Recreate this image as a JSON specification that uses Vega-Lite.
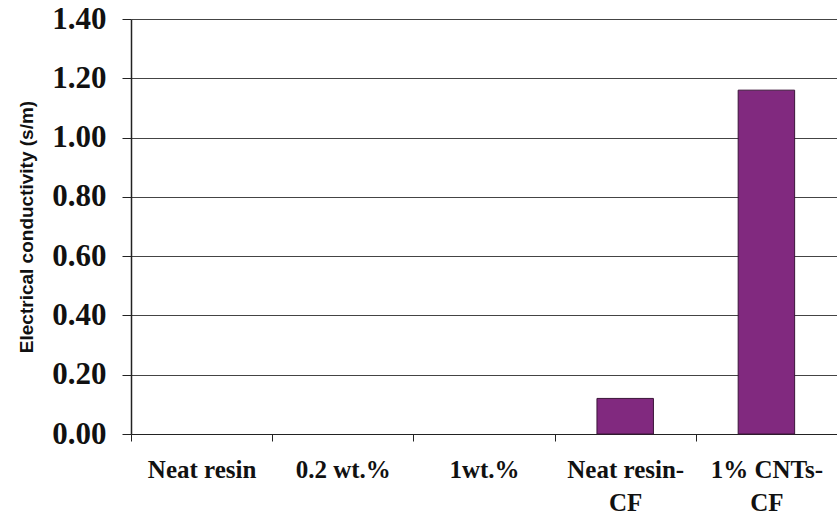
{
  "$schema": "https://vega.github.io/schema/vega-lite/v6.json",
  "width": 706,
  "height": 415,
  "autosize": {"type": "none"},
  "padding": {"left": 131, "top": 19, "right": 0, "bottom": 82},
  "background": "white",
  "config": {"view": {"stroke": null}},
  "data": {
    "values": [
      {"sample": "Neat resin", "conductivity": 0},
      {"sample": "0.2 wt.%", "conductivity": 0},
      {"sample": "1wt.%", "conductivity": 0},
      {"sample": "Neat resin-CF", "conductivity": 0.12},
      {"sample": "1% CNTs-CF", "conductivity": 1.16}
    ]
  },
  "mark": {"type": "bar", "width": {"band": 0.4}, "color": "#81297f", "stroke": "#3b1539"},
  "encoding": {
    "x": {
      "field": "sample",
      "type": "nominal",
      "sort": null,
      "scale": {"paddingInner": 0, "paddingOuter": 0},
      "axis": {
        "title": null,
        "labelAngle": 0,
        "tickBand": "extent",
        "tickSize": 7,
        "tickColor": "#222",
        "domainColor": "#222",
        "labelFont": "Liberation Serif",
        "labelFontWeight": "bold",
        "labelFontSize": 25,
        "labelColor": "#111",
        "labelPadding": 16,
        "labelLineHeight": 33,
        "labelBaseline": "top",
        "labelExpr": "datum.label == 'Neat resin-CF' ? ['Neat resin-', 'CF'] : datum.label == '1% CNTs-CF' ? ['1% CNTs-', 'CF'] : datum.label"
      }
    },
    "y": {
      "field": "conductivity",
      "type": "quantitative",
      "scale": {"domain": [0, 1.4]},
      "axis": {
        "title": "Electrical conductivity (s/m)",
        "titleFont": "Liberation Sans",
        "titleFontWeight": "bold",
        "titleFontSize": 19,
        "titleColor": "#111",
        "titlePadding": 15,
        "values": [0, 0.2, 0.4, 0.6, 0.8, 1.0, 1.2, 1.4],
        "format": ".2f",
        "grid": true,
        "gridColor": "#444",
        "gridWidth": 1,
        "domainColor": "#222",
        "domainWidth": 1.5,
        "tickColor": "#222",
        "tickSize": 9,
        "labelFont": "Liberation Serif",
        "labelFontWeight": "bold",
        "labelFontSize": 31,
        "labelColor": "#111",
        "labelPadding": 16
      }
    },
    "strokeWidth": {
      "condition": {"test": "datum.conductivity > 0", "value": 1},
      "value": 0
    }
  }
}
